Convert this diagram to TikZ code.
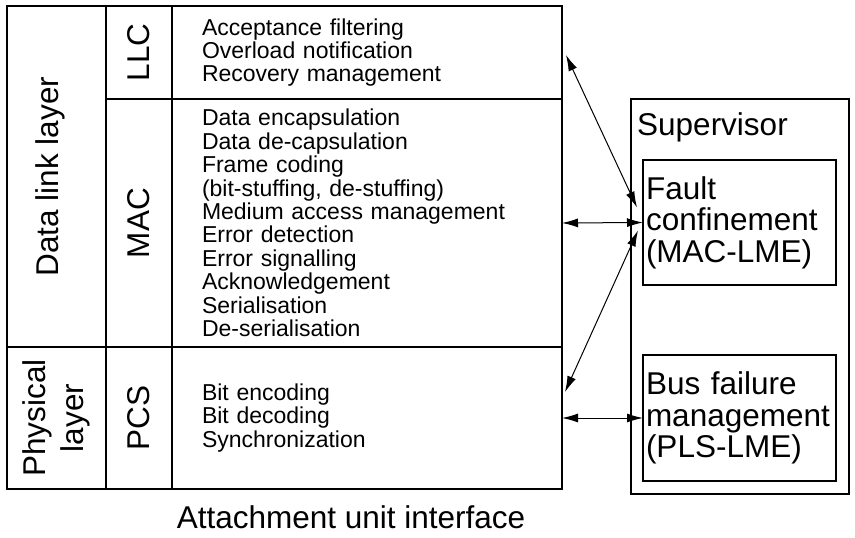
\documentclass[tikz,border=0pt]{standalone}
\usepackage{fontspec}
\setmainfont{Liberation Sans}
\usetikzlibrary{arrows.meta}

\begin{document}
\begin{tikzpicture}[x=1pt,y=-1pt,
    cell/.style={draw, line width=1.2pt, inner sep=0pt, outer sep=0pt, font=\fontsize{31.5}{38}\selectfont},
    tasks/.style={cell, font=\fontsize{23}{23.4}\selectfont, align=left, text width=330pt, inner xsep=30pt, minimum width=390pt},
    lme/.style={cell, font=\fontsize{31.5}{31.5}\selectfont, align=left, text width=187pt, inner xsep=3pt, minimum width=193pt},
    link/.style={{Latex[length=16pt,width=9pt]}-{Latex[length=16pt,width=9pt]}, line width=1pt}]
\useasboundingbox (0,0) rectangle (855,538);
% layers
\node[cell, minimum width=99pt, minimum height=341pt] (dll) at (56.5,176.5) {\rotatebox{90}{Data link layer}\kern12pt};
\node[cell, minimum width=99pt, minimum height=142pt] (phy) at (56.5,418) {\rotatebox{90}{\begin{tabular}{@{}c@{}}Physical\\layer\end{tabular}}};
% sublayers
\node[cell, minimum width=66pt, minimum height=93pt] (llc) at (139,52.5) {\rotatebox{90}{LLC}};
\node[cell, minimum width=66pt, minimum height=248pt] (mac) at (139,223) {\rotatebox{90}{MAC}};
\node[cell, minimum width=66pt, minimum height=142pt] (pcs) at (139,418) {\rotatebox{90}{PCS}};
% functions
\node[tasks, minimum height=93pt] (llcf) at (367,52.5) {Acceptance filtering\\Overload notification\\Recovery management};
\node[tasks, minimum height=248pt] (macf) at (367,223) {Data encapsulation\\Data de-capsulation\\Frame coding\\(bit-stuffing, de-stuffing)\\Medium access management\\Error detection\\Error signalling\\Acknowledgement\\Serialisation\\De-serialisation};
\node[tasks, minimum height=142pt] (pcsf) at (367,418) {Bit encoding\\Bit decoding\\Synchronization};
\node[font=\fontsize{31.5}{38}\selectfont, anchor=base, inner sep=0pt] (aui) at (351,528) {Attachment unit interface};
% supervisor
\node[cell, minimum width=218pt, minimum height=395pt] (sup) at (740,296.5) {};
\node[font=\fontsize{31.5}{38}\selectfont, anchor=base west, inner sep=0pt] (suptext) at (637,135) {Supervisor};
\node[lme, minimum height=125pt] (fault) at (739.5,222.5) {Fault\\confinement\\(MAC-LME)};
\node[lme, minimum height=126pt] (bus) at (739.5,418) {Bus failure\\management\\(PLS-LME)};
% connections
\draw[link] ([xshift=4pt,yshift=-2.5pt]llcf.east) -- ([xshift=-6pt,yshift=15pt]fault.west);
\draw[link] (macf.east) -- (fault.west);
\draw[link] ([xshift=3pt,yshift=26pt]pcsf.east) -- ([xshift=-5pt,yshift=-8pt]fault.west);
\draw[link] (pcsf.east) -- (bus.west);
\end{tikzpicture}
\end{document}
